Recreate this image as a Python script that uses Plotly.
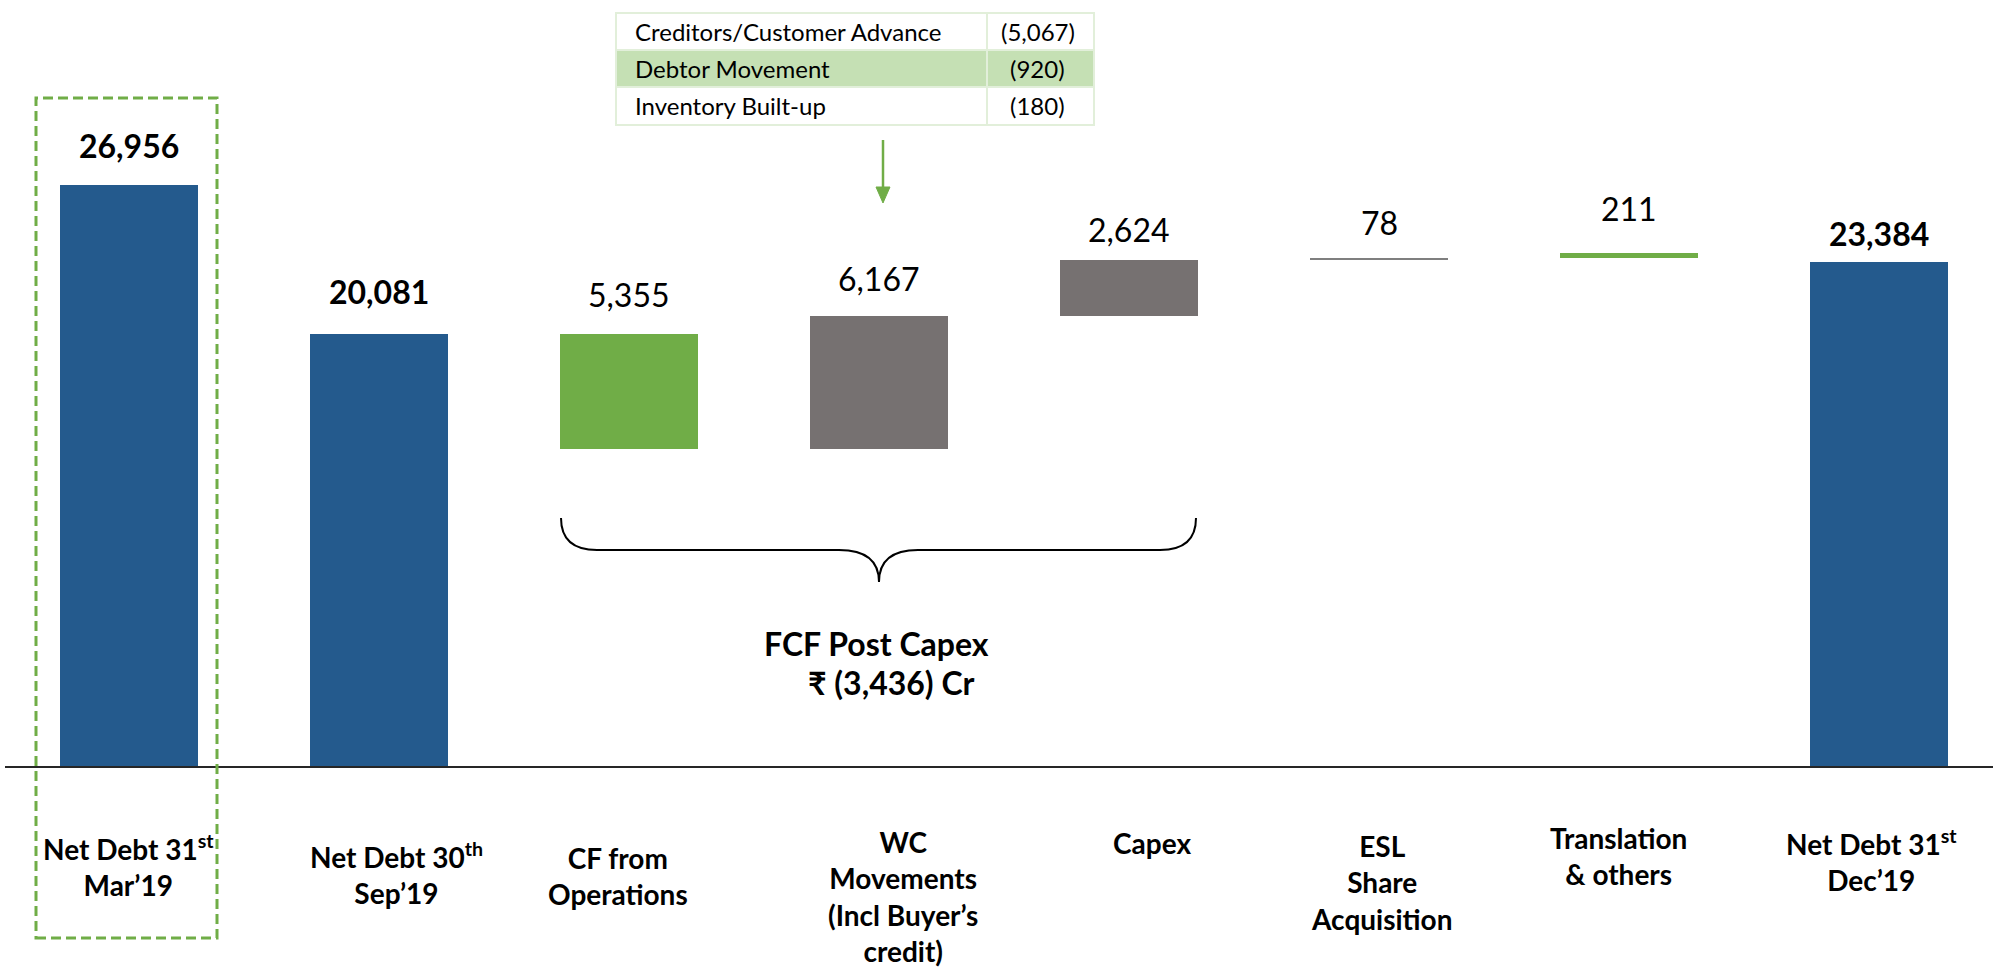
import plotly.graph_objects as go

# ---------------- data ----------------
categories = [
    "Net Debt 31<sup>st</sup><br>Mar’19",
    "Net Debt 30<sup>th</sup><br>Sep’19",
    "CF from<br>Operations",
    "WC<br>Movements<br>(Incl Buyer’s<br>credit)",
    "Capex",
    "ESL<br>Share<br>Acquisition",
    "Translation<br>& others",
    "Net Debt 31<sup>st</sup><br>Dec’19",
]
values = [26956, 20081, -5355, 6167, 2624, 78, -211, 23384]
measures = ["total", "total", "relative", "relative", "relative", "relative", "relative", "total"]

wc_items = ["Creditors/Customer Advance", "Debtor Movement", "Inventory Built-up"]
wc_values = ["(5,067)", "(920)", "(180)"]

fcf_title = "FCF Post Capex"
fcf_value = "₹ (3,436) Cr"

# ---------------- styles ----------------
BLUE = "#245A8D"
GREEN = "#70AD47"
GREY = "#767171"
LIGHTGREY = "#7F7F7F"
colors = [BLUE, BLUE, GREEN, GREY, GREY, LIGHTGREY, GREEN, BLUE]
bold_label = [True, True, False, False, False, False, False, True]
# the source slide stacks the translation step on top of the previous step
stack_up = [False, False, False, False, False, False, True, False]

W, H = 1993, 976
FONT = "Lato, 'Open Sans', sans-serif"


def pxx(x):
    return x / W


def pxy(y):
    return 1 - y / H


# waterfall bases/heights
bases, heights = [], []
running = 0
for v, m, up in zip(values, measures, stack_up):
    if m == "total":
        b, h = 0, v
        running = v
    else:
        if v < 0 and not up:
            b, h = running + v, -v
        else:
            b, h = running, abs(v)
        running += v
    bases.append(b)
    heights.append(h)

fig = go.Figure()
fig.add_trace(go.Bar(
    x=categories, y=heights, base=bases,
    marker=dict(color=colors, line=dict(width=0)),
    width=0.552, hoverinfo="skip", showlegend=False,
))

annotations = []

# value labels above each bar
label_gap = [26, 29, 26, 24, 17, 22, 31, 15]
for cat, v, b, h, bl, g in zip(categories, values, bases, heights, bold_label, label_gap):
    txt = f"{abs(v):,}"
    if bl:
        txt = f"<b>{txt}</b>"
    annotations.append(dict(
        x=cat, y=b + h, xref="x", yref="y", text=txt, showarrow=False,
        yanchor="bottom", yshift=g - 8,
        font=dict(family=FONT, size=32, color="#000000"),
    ))

# category labels
label_xshift = [-1, 17, -11, 24, 23, 3, -11, -8]
label_cap_top = [840, 848, 852, 836, 837, 840, 832, 835]
for cat, xs, ct in zip(categories, label_xshift, label_cap_top):
    annotations.append(dict(
        x=cat, y=pxy(ct - 13), xref="x", yref="paper", text=f"<b>{cat}</b>",
        showarrow=False, yanchor="top", xshift=xs, align="center",
        font=dict(family=FONT, size=28, color="#000000"),
    ))

# FCF text
annotations.append(dict(
    x=pxx(876), y=pxy(622), xref="paper", yref="paper", text=f"<b>{fcf_title}</b>",
    showarrow=False, yanchor="top", font=dict(family=FONT, size=32, color="#000000"),
))
annotations.append(dict(
    x=pxx(891), y=pxy(661), xref="paper", yref="paper", text=f"<b>{fcf_value}</b>",
    showarrow=False, yanchor="top", font=dict(family=FONT, size=32, color="#000000"),
))

# table of WC components
tx0, tx1, tcol = 616, 1094, 987
row_edges = [13, 50, 87, 125]
shapes = []
for i, (name, val) in enumerate(zip(wc_items, wc_values)):
    y0, y1 = row_edges[i], row_edges[i + 1]
    if i == 1:
        shapes.append(dict(type="rect", xref="paper", yref="paper",
                           x0=pxx(tx0), x1=pxx(tx1), y0=pxy(y1), y1=pxy(y0),
                           fillcolor="#C5E0B4", line=dict(width=0), layer="below"))
    yc = (y0 + y1) / 2
    annotations.append(dict(
        x=pxx(tx0 + 17), y=pxy(yc), xref="paper", yref="paper", text=name,
        showarrow=False, xanchor="left", yanchor="middle",
        font=dict(family=FONT, size=24, color="#000000"),
    ))
    annotations.append(dict(
        x=pxx((tcol + tx1) / 2 - 3), y=pxy(yc), xref="paper", yref="paper", text=val,
        showarrow=False, xanchor="center", yanchor="middle",
        font=dict(family=FONT, size=24, color="#000000"),
    ))
tline = dict(color="#E2EFDA", width=2)
shapes.append(dict(type="rect", xref="paper", yref="paper", x0=pxx(tx0), x1=pxx(tx1),
                   y0=pxy(row_edges[-1]), y1=pxy(row_edges[0]), line=tline))
for ry in row_edges[1:-1]:
    shapes.append(dict(type="line", xref="paper", yref="paper", x0=pxx(tx0), x1=pxx(tx1),
                       y0=pxy(ry), y1=pxy(ry), line=tline))
shapes.append(dict(type="line", xref="paper", yref="paper", x0=pxx(tcol), x1=pxx(tcol),
                   y0=pxy(row_edges[0]), y1=pxy(row_edges[-1]), line=tline))


def P(x, y):
    return f"{pxx(x):.5f},{pxy(y):.5f}"


# arrow from table to WC bar
shapes.append(dict(type="line", xref="paper", yref="paper", x0=pxx(883), x1=pxx(883),
                   y0=pxy(140), y1=pxy(190), line=dict(color=GREEN, width=2.5)))
shapes.append(dict(type="path", xref="paper", yref="paper",
                   path=f"M {P(876, 187)} L {P(890, 187)} L {P(883, 203)} Z",
                   fillcolor=GREEN, line=dict(color=GREEN, width=1)))

# brace under the FCF steps
brace = (f"M {P(561, 518)} Q {P(561, 550)} {P(597, 550)} L {P(839, 550)} "
         f"Q {P(879, 550)} {P(879, 582)} Q {P(879, 550)} {P(918, 550)} "
         f"L {P(1160, 550)} Q {P(1196, 550)} {P(1196, 518)}")
shapes.append(dict(type="path", xref="paper", yref="paper", path=brace,
                   line=dict(color="#000000", width=2)))

# baseline
shapes.append(dict(type="line", xref="paper", yref="y", x0=pxx(5), x1=1, y0=0, y1=0,
                   line=dict(color="#262626", width=2)))

# dashed highlight box around first bar
shapes.append(dict(type="rect", xref="x", yref="paper", x0=-0.372, x1=0.352,
                   y0=pxy(938), y1=pxy(98),
                   line=dict(color=GREEN, width=3, dash="10px,5px")))

scale = 0.02158  # px per unit
fig.update_layout(
    width=W, height=H,
    margin=dict(l=0, r=0, t=0, b=0),
    paper_bgcolor="white", plot_bgcolor="white",
    xaxis=dict(type="category", visible=False, range=[-129 / 250, -129 / 250 + W / 250]),
    yaxis=dict(visible=False, range=[-(H - 767) / scale, 767 / scale]),
    annotations=annotations, shapes=shapes,
    bargap=0, showlegend=False,
)

fig.write_html("out.html", config={"displayModeBar": False},
               post_script="document.body.style.margin='0';document.body.style.overflow='hidden';")
